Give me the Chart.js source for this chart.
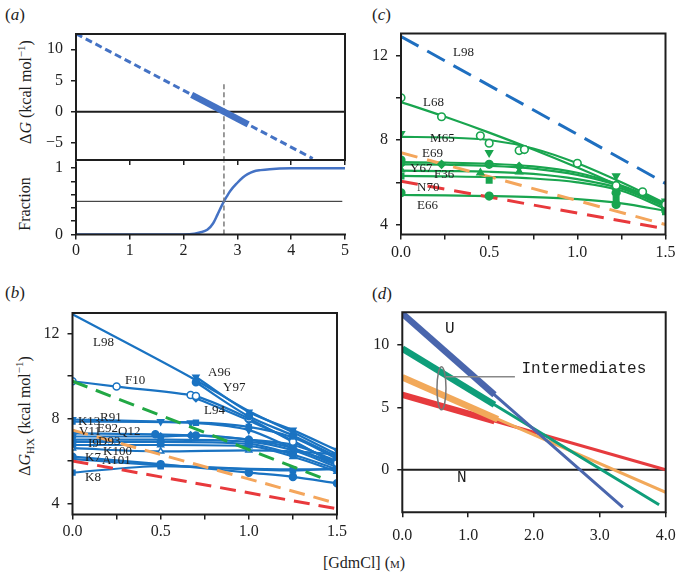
<!DOCTYPE html>
<html>
<head>
<meta charset="utf-8">
<script src="https://cdn.jsdelivr.net/npm/chart.js@4.4.1/dist/chart.umd.min.js"></script>
<style>
  body { margin: 0; background: #fff; width: 683px; height: 574px; position: relative; overflow: hidden;
         font-family: "Liberation Serif", serif; color: #1e1e1e; }
  canvas { position: absolute; }
  .tag { position: absolute; font-size: 17px; line-height: 1; }
  .ytitle { position: absolute; font-size: 16px; line-height: 1; white-space: nowrap;
            transform: translate(-50%, -50%) rotate(-90deg); }
  .xtitle { position: absolute; font-size: 16px; line-height: 1; white-space: nowrap; transform: translate(-50%, -50%); }
  .mono { font-family: "Liberation Mono", monospace; position: absolute; left: -100px; }
</style>
</head>
<body>
<div class="tag" style="left:5px;top:6px">(<i>a</i>)</div>
<div class="tag" style="left:372px;top:6px">(<i>c</i>)</div>
<div class="tag" style="left:5px;top:284px">(<i>b</i>)</div>
<div class="tag" style="left:372px;top:285px">(<i>d</i>)</div>
<div class="ytitle" style="left:25px;top:92px">Δ<i>G</i> (kcal mol<sup style="font-size:11px">−1</sup>)</div>
<div class="ytitle" style="left:25px;top:204px">Fraction</div>
<div class="ytitle" style="left:25px;top:416px">Δ<i>G</i><sub style="font-size:11px">HX</sub> (kcal mol<sup style="font-size:11px">−1</sup>)</div>
<div class="xtitle" style="left:364px;top:563px">[GdmCl] (<span style="font-variant:small-caps">m</span>)</div>
<div class="mono">.</div>

<canvas id="aBot"></canvas>
<canvas id="aTop"></canvas>
<canvas id="panelB"></canvas>
<canvas id="panelC"></canvas>
<canvas id="panelD"></canvas>

<script>
// ---- panel (a): stability line and unfolded fraction ----
const aLineX = [0, 4.4];
const aLineY = [12.5, -7.5];
const aThickX = [2.15, 3.2];
const aThickY = [2.7, -2.05];
const aMidTopX = [2.75, 2.75];
const aMidTopY = [4.4, -8];
const aZeroX = [0, 5];
const aZeroY = [0, 0];
const fracX = [0, 1, 2, 2.2, 2.3, 2.44, 2.55, 2.63, 2.7, 2.75, 2.8, 2.87, 3.0, 3.1, 3.19, 3.3, 3.43, 3.6, 4, 5];
const fracY = [0, 0, 0, 0.01, 0.03, 0.07, 0.17, 0.3, 0.42, 0.5, 0.57, 0.66, 0.78, 0.86, 0.91, 0.95, 0.97, 0.985, 0.997, 1];
const fracHalfX = [0, 4.95];
const fracHalfY = [0.5, 0.5];
const aMidBotX = [2.75, 2.75];
const aMidBotY = [0, 1.2];

// ---- panel (b): residues, blue ----
const bL98X = [0, 0.7, 1.0, 1.25, 1.5];       const bL98Y = [12.9, 9.8, 8.35, 7.35, 6.3];
const bA96X = [0.7, 1.0, 1.25, 1.5];          const bA96Y = [9.95, 8.3, 7.45, 6.5];
const bY97X = [0.7, 1.0, 1.25, 1.5];          const bY97Y = [9.7, 8.1, 7.2, 6.2];
const bF10X = [0, 0.25, 0.67, 0.7, 1.0, 1.25, 1.5]; const bF10Y = [9.75, 9.5, 9.1, 9.05, 8.0, 6.9, 5.9];
const bL94X = [0.7, 1.0, 1.25, 1.5];          const bL94Y = [8.95, 7.9, 6.95, 5.8];
const bK13X = [0, 0.5, 0.67, 1.0, 1.25, 1.5]; const bK13Y = [7.95, 7.85, 7.8, 7.45, 6.6, 5.9];
const bR91X = [0, 0.7, 1.0, 1.25, 1.5];       const bR91Y = [7.85, 7.8, 7.6, 7.1, 6.1];
const bV11X = [0, 0.47, 0.7, 1.0, 1.25, 1.5]; const bV11Y = [7.3, 7.25, 7.2, 7.0, 6.75, 6.0];
const bE92X = [0, 0.5, 0.67, 1.0, 1.25, 1.5]; const bE92Y = [7.15, 7.15, 7.2, 7.0, 6.6, 5.8];
const bQ12X = [0, 0.5, 1.0, 1.25, 1.5];       const bQ12Y = [7.0, 7.0, 6.9, 6.5, 5.7];
const bI9X = [0, 0.5, 1.0, 1.25, 1.5];        const bI9Y = [6.9, 6.9, 6.8, 6.3, 5.6];
const bD93X = [0, 0.5, 1.0, 1.25, 1.5];       const bD93Y = [6.75, 6.75, 6.7, 6.2, 5.5];
const bK100X = [0, 0.5, 1.0, 1.25, 1.5];      const bK100Y = [6.6, 6.45, 6.5, 6.45, 6.3];
const bK7X = [0, 0.5, 1.0, 1.25, 1.5];        const bK7Y = [6.2, 5.85, 5.45, 5.25, 4.95];
const bA101X = [0, 0.5, 1.25, 1.5];           const bA101Y = [6.1, 5.8, 5.6, 5.6];
const bK8X = [0, 0.5, 1.25, 1.5];             const bK8Y = [5.45, 5.75, 5.55, 5.65];
const bGreenX = [0, 1.43];  const bGreenY = [9.75, 5.15];
const bOrangeX = [0, 1.5];  const bOrangeY = [7.45, 4.0];
const bRedX = [0, 1.5];     const bRedY = [6.0, 3.75];

// ---- panel (c): residues, green (fits + measured points) ----
const cFitX = [0, 0.25, 0.5, 0.75, 1.0, 1.25, 1.5];
const cL68Fit = [9.8, 9.1, 8.35, 7.55, 6.7, 5.8, 4.9];
const cM65Fit = [8.15, 8.12, 8.0, 7.6, 6.9, 6.0, 5.0];
const cE69Fit = [6.95, 6.93, 6.88, 6.75, 6.45, 5.85, 5.0];
const cY67Fit = [6.85, 6.83, 6.78, 6.65, 6.35, 5.8, 4.95];
const cF36Fit = [6.55, 6.53, 6.5, 6.4, 6.15, 5.7, 4.85];
const cN70Fit = [6.3, 6.28, 6.25, 6.18, 6.0, 5.6, 4.75];
const cE66Fit = [5.4, 5.38, 5.35, 5.3, 5.2, 5.0, 4.65];
const cL68X = [0, 0.23, 0.45, 0.5, 0.67, 0.7, 1.0, 1.22, 1.37, 1.5];
const cL68Y = [10.0, 9.1, 8.2, 7.85, 7.5, 7.55, 6.9, 5.85, 5.55, 4.95];
const cM65X = [0, 0.5, 1.22, 1.5];        const cM65Y = [8.3, 7.4, 6.3, 5.1];
const cE69X = [0, 0.5, 1.22, 1.5];        const cE69Y = [7.05, 6.85, 5.5, 4.9];
const cY67X = [0, 0.23, 0.67, 1.22, 1.5]; const cY67Y = [6.85, 6.85, 6.75, 5.7, 4.8];
const cF36X = [0, 0.45, 0.67, 1.22, 1.5]; const cF36Y = [6.6, 6.45, 6.5, 5.6, 4.7];
const cN70X = [0, 0.5, 1.22, 1.5];        const cN70Y = [6.3, 6.1, 5.2, 4.6];
const cE66X = [0, 0.5, 1.22, 1.5];        const cE66Y = [5.5, 5.35, 4.95, 4.75];
const cBlueX = [0, 1.5];    const cBlueY = [12.9, 5.95];
const cOrangeX = [0, 1.5];  const cOrangeY = [7.4, 4.0];
const cRedX = [0, 1.5];     const cRedY = [6.05, 3.8];

// ---- panel (d): model lines, thick part = measured range ----
const dBlueX = [0, 1.4, 3.35];    const dBlueY = [12.5, 6.0, -3.0];
const dGreenX = [0, 1.4, 3.9];    const dGreenY = [9.7, 5.2, -2.8];
const dOrangeX = [0, 1.45, 4.0];  const dOrangeY = [7.4, 4.05, -1.8];
const dRedX = [0, 1.4, 4.0];      const dRedY = [6.0, 3.9, 0.0];
const dZeroX = [0, 4];            const dZeroY = [0, 0];
const dPointerX = [0.66, 1.71];   const dPointerY = [7.44, 7.44];

const INK = "#1e1e1e";
const SERIF = "'Liberation Serif', serif";
const A_BLUE = "#4472c4";
const B_BLUE = "#1a73c2";
const C_GREEN = "#19a54f";
const DASH_GREEN = "#22a845";
const DASH_ORANGE = "#f4a65c";
const DASH_RED = "#e8393c";

Chart.defaults.font.family = SERIF;
Chart.defaults.font.size = 15;
Chart.defaults.color = INK;
Chart.defaults.animation = false;
Chart.defaults.plugins.legend.display = false;
Chart.defaults.plugins.tooltip.enabled = false;

const pts = (xs, ys) => xs.map((x, i) => ({ x: x, y: ys[i] }));

const plain = (xs, ys, color, width, dash, order) => ({
  data: pts(xs, ys), borderColor: color, borderWidth: width, borderDash: dash || [],
  pointRadius: 0, tension: 0, order: order || 1
});

const smooth = (xs, ys, color, width, order) =>
  Object.assign(plain(xs, ys, color, width, null, order), { cubicInterpolationMode: "monotone" });

const marked = (xs, ys, color, style, fill, rot, order) => ({
  data: pts(xs, ys), borderColor: color, borderWidth: 2.2, cubicInterpolationMode: "monotone",
  pointStyle: style, pointRadius: 3.5, pointBorderWidth: 1.5, pointRotation: rot || 0,
  pointBorderColor: color, pointBackgroundColor: fill, order: order || 2
});

const dots = (xs, ys, color, style, fill, rot) => ({
  data: pts(xs, ys), showLine: false, borderColor: color,
  pointStyle: style, pointRadius: 3.8, pointBorderWidth: 1.6, pointRotation: rot || 0,
  pointBorderColor: color, pointBackgroundColor: fill, order: 0
});

const frame = sides => ({
  id: "frame",
  afterDatasetsDraw(chart) {
    const { ctx, chartArea: a } = chart;
    ctx.save();
    ctx.strokeStyle = INK;
    ctx.lineWidth = 2;
    ctx.beginPath();
    if (sides.includes("t")) { ctx.moveTo(a.left - 1, a.top); ctx.lineTo(a.right + 1, a.top); }
    if (sides.includes("r")) { ctx.moveTo(a.right, a.top); ctx.lineTo(a.right, a.bottom); }
    if (sides.includes("b")) { ctx.moveTo(a.left - 1, a.bottom); ctx.lineTo(a.right + 1, a.bottom); }
    if (sides.includes("l")) { ctx.moveTo(a.left, a.top); ctx.lineTo(a.left, a.bottom + 1); }
    ctx.stroke();
    ctx.restore();
  }
});

const notes = (items, font) => ({
  id: "notes",
  afterDatasetsDraw(chart) {
    const { ctx, scales } = chart;
    ctx.save();
    ctx.font = font;
    ctx.fillStyle = INK;
    ctx.textBaseline = "middle";
    items.forEach(n => ctx.fillText(n[0], scales.x.getPixelForValue(n[1]), scales.y.getPixelForValue(n[2])));
    ctx.restore();
  }
});

// fixed axis box so the plot area lands where the reference has it
const axis = (min, max, step, fmt, size, pad, horizontal) => ({
  type: "linear", min: min, max: max,
  afterFit: s => {
    if (horizontal) s.height = size; else s.width = size;
    s.paddingTop = 0; s.paddingBottom = 0; s.paddingLeft = 0; s.paddingRight = 0;
  },
  grid: { drawOnChartArea: false, tickLength: 5, color: INK, lineWidth: 1.5 },
  border: { display: false },
  ticks: { stepSize: step, includeBounds: false, padding: pad, maxRotation: 0, autoSkip: false,
           font: { family: SERIF, size: 16 }, color: INK, callback: fmt }
});

function place(id, left, top, w, h, pad, config) {
  const cv = document.getElementById(id);
  cv.width = w; cv.height = h;
  cv.style.left = left + "px"; cv.style.top = top + "px";
  config.options = Object.assign({
    responsive: false, devicePixelRatio: 1,
    layout: { autoPadding: false, padding: pad }
  }, config.options);
  return new Chart(cv, config);
}

const minus = v => (v < 0 ? "\u2212" + Math.abs(v) : String(v));
const halfFmt = v => (Math.abs(v * 2 - Math.round(v * 2)) < 1e-6 ? v.toFixed(1) : "");
const quadFmt = v => (Math.abs(v % 4) < 1e-6 ? String(v) : "");
const tickOnly = () => " ";

function drawAll() {
  // (a) top
  place("aTop", 0, 24, 360, 143, { top: 10, right: 15, left: 0, bottom: 0 }, {
    type: "line",
    data: { datasets: [
      plain(aZeroX, aZeroY, INK, 2, null, 3),
      plain(aMidTopX, aMidTopY, "#7a7a7a", 1.5, [5, 3], 2),
      plain(aLineX, aLineY, A_BLUE, 3, [7, 4], 1),
      plain(aThickX, aThickY, A_BLUE, 6.5, null, 0)
    ] },
    options: { scales: {
      x: axis(0, 5, 1, tickOnly, 7, 0, true),
      y: axis(-7.74, 12.45, 5, minus, 76, 8, false)
    } },
    plugins: [frame("tlrb")]
  });

  // (a) bottom
  place("aBot", 0, 150, 360, 115, { top: 11.5, right: 15, left: 0, bottom: 0 }, {
    type: "line",
    data: { datasets: [
      plain(fracHalfX, fracHalfY, INK, 1, null, 2),
      plain(aMidBotX, aMidBotY, "#7a7a7a", 1.5, [5, 3], 1),
      smooth(fracX, fracY, A_BLUE, 2.5, 0)
    ] },
    options: { scales: {
      x: axis(0, 5, 1, v => String(v), 30.5, 2, true),
      y: axis(0, 1.1, 0.2, v => (v === 0 || v === 1 ? String(v) : ""), 76, 8, false)
    } },
    plugins: [frame("lb")]
  });

  // (b)
  place("panelB", 0, 300, 360, 250, { top: 13, right: 23, left: 0, bottom: 0 }, {
    type: "line",
    data: { datasets: [
      plain(bGreenX, bGreenY, DASH_GREEN, 3, [16, 9], 1),
      plain(bOrangeX, bOrangeY, DASH_ORANGE, 3, [16, 9], 1),
      plain(bRedX, bRedY, DASH_RED, 3, [16, 9], 1),
      smooth(bL98X, bL98Y, B_BLUE, 2.2, 2),
      marked(bA96X, bA96Y, B_BLUE, "triangle", B_BLUE, 180),
      marked(bY97X, bY97Y, B_BLUE, "circle", B_BLUE),
      marked(bF10X, bF10Y, B_BLUE, "circle", "#fff"),
      marked(bL94X, bL94Y, B_BLUE, "rectRot", B_BLUE),
      marked(bK13X, bK13Y, B_BLUE, "triangle", B_BLUE, 180),
      marked(bR91X, bR91Y, B_BLUE, "rect", B_BLUE),
      marked(bV11X, bV11Y, B_BLUE, "circle", B_BLUE),
      marked(bE92X, bE92Y, B_BLUE, "rectRot", B_BLUE),
      marked(bQ12X, bQ12Y, B_BLUE, "rect", B_BLUE),
      marked(bI9X, bI9Y, B_BLUE, "circle", B_BLUE),
      marked(bD93X, bD93Y, B_BLUE, "triangle", B_BLUE),
      marked(bK100X, bK100Y, B_BLUE, "triangle", "#fff"),
      marked(bK7X, bK7Y, B_BLUE, "circle", B_BLUE),
      marked(bA101X, bA101Y, B_BLUE, "rect", B_BLUE),
      marked(bK8X, bK8Y, B_BLUE, "rect", B_BLUE)
    ] },
    options: { scales: {
      x: axis(0, 1.5, 0.25, halfFmt, 35.5, 3, true),
      y: axis(3.48, 12.96, 2, quadFmt, 72.5, 8, false)
    } },
    plugins: [frame("tlrb"), notes([
      ["L98", 0.116, 11.59], ["A96", 0.769, 10.18], ["Y97", 0.854, 9.47], ["F10", 0.298, 9.8],
      ["L94", 0.746, 8.39], ["K13", 0.031, 7.83], ["R91", 0.156, 8.06], ["V11", 0.037, 7.36],
      ["E92", 0.139, 7.5], ["Q12", 0.258, 7.4], ["I9", 0.088, 6.84], ["D93", 0.145, 6.93],
      ["K100", 0.173, 6.46], ["K7", 0.071, 6.18], ["A101", 0.167, 6.04], ["K8", 0.071, 5.24]
    ], "13px " + SERIF)]
  });

  // (c)
  place("panelC", 340, 24, 343, 240, { top: 9.5, right: 17.5, left: 0, bottom: 0 }, {
    type: "line",
    data: { datasets: [
      plain(cBlueX, cBlueY, "#1f6fc0", 3, [20, 10], 1),
      plain(cOrangeX, cOrangeY, DASH_ORANGE, 3, [17, 10], 1),
      plain(cRedX, cRedY, DASH_RED, 3, [17, 10], 1),
      smooth(cFitX, cL68Fit, C_GREEN, 2.2, 2),
      smooth(cFitX, cM65Fit, C_GREEN, 2.2, 2),
      smooth(cFitX, cE69Fit, C_GREEN, 2.2, 2),
      smooth(cFitX, cY67Fit, C_GREEN, 2.2, 2),
      smooth(cFitX, cF36Fit, C_GREEN, 2.2, 2),
      smooth(cFitX, cN70Fit, C_GREEN, 2.2, 2),
      smooth(cFitX, cE66Fit, C_GREEN, 2.2, 2),
      dots(cL68X, cL68Y, C_GREEN, "circle", "#fff"),
      dots(cM65X, cM65Y, C_GREEN, "triangle", C_GREEN, 180),
      dots(cE69X, cE69Y, C_GREEN, "circle", C_GREEN),
      dots(cY67X, cY67Y, C_GREEN, "rectRot", C_GREEN),
      dots(cF36X, cF36Y, C_GREEN, "triangle", C_GREEN),
      dots(cN70X, cN70Y, C_GREEN, "rect", C_GREEN),
      dots(cE66X, cE66Y, C_GREEN, "circle", C_GREEN)
    ] },
    options: { scales: {
      x: axis(0, 1.5, 0.25, halfFmt, 29.5, 4, true),
      y: axis(3.53, 13.04, 2, quadFmt, 61, 8, false)
    } },
    plugins: [frame("tlrb"), notes([
      ["L98", 0.295, 12.14], ["L68", 0.125, 9.77], ["M65", 0.165, 8.07], ["E69", 0.119, 7.36],
      ["Y67", 0.051, 6.64], ["F36", 0.1875, 6.36], ["N70", 0.091, 5.74], ["E66", 0.091, 4.89]
    ], "13px " + SERIF)]
  });

  // (d)
  place("panelD", 340, 300, 343, 250, { top: 12.3, right: 17.3, left: 0, bottom: 0 }, {
    type: "line",
    data: { datasets: [
      plain(dZeroX, dZeroY, INK, 2, null, 5),
      plain(dPointerX, dPointerY, "#888", 1.5, null, 0),
      plain(dBlueX, dBlueY, "#4a66ad", 3, null, 1),
      plain(dBlueX.slice(0, 2), dBlueY.slice(0, 2), "#4a66ad", 6.5, null, 1),
      plain(dGreenX, dGreenY, "#0f9e7a", 3, null, 2),
      plain(dGreenX.slice(0, 2), dGreenY.slice(0, 2), "#0f9e7a", 6.5, null, 2),
      plain(dOrangeX, dOrangeY, "#f2a95a", 3, null, 3),
      plain(dOrangeX.slice(0, 2), dOrangeY.slice(0, 2), "#f2a95a", 6.5, null, 3),
      plain(dRedX, dRedY, "#e63b3e", 3, null, 4),
      plain(dRedX.slice(0, 2), dRedY.slice(0, 2), "#e63b3e", 6.5, null, 4)
    ] },
    options: { scales: {
      x: axis(0, 4, 1, v => v.toFixed(1), 37.7, 9, true),
      y: axis(-3.4, 12.6, 5, minus, 62.3, 8, false)
    } },
    plugins: [frame("tlrb"), notes([
      ["Intermediates", 1.81, 8.1], ["U", 0.65, 11.3], ["N", 0.83, -0.6]
    ], "16px 'Liberation Mono', monospace"), {
      id: "ring",
      afterDatasetsDraw(chart) {
        const { ctx, scales: { x, y } } = chart;
        ctx.save();
        ctx.strokeStyle = "#777";
        ctx.lineWidth = 1.5;
        ctx.beginPath();
        ctx.ellipse(x.getPixelForValue(0.595), y.getPixelForValue(6.52), 4.5, 21.5, 0, 0, Math.PI * 2);
        ctx.stroke();
        ctx.restore();
      }
    }]
  });
}

Promise.all([
  document.fonts.load("16px 'Liberation Serif'"),
  document.fonts.load("16px 'Liberation Mono'")
]).then(drawAll, drawAll);
</script>
</body>
</html>
